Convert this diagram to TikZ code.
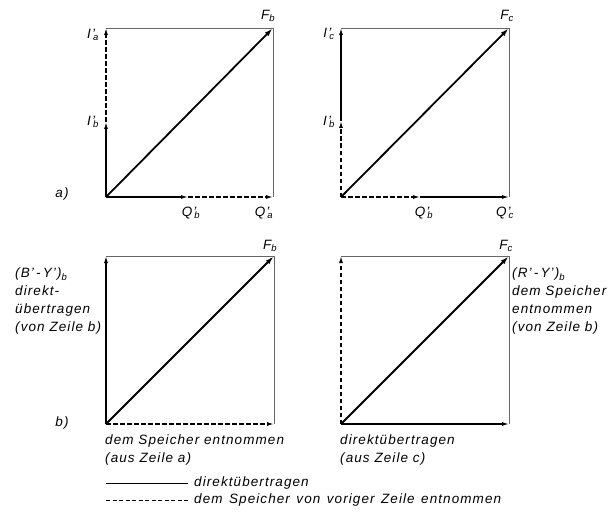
\documentclass[tikz,border=0pt]{standalone}
\usepackage{fontspec}
\setmainfont{Liberation Sans}[LetterSpace=8]
\usetikzlibrary{arrows.meta,positioning}

\newcommand{\sig}[2]{#1’\kern-2pt\textsubscript{#2}}

\tikzset{
  frame/.style={line width=0.4pt,black!60},
  direct/.style={line width=1.3pt,-{Latex[length=7pt,width=4pt]}},
  stored/.style={direct,dash pattern=on 4.5pt off 2.5pt},
  diag/.style={line width=1.8pt,-{Latex[length=9pt,width=5pt]}},
  lab/.style={inner sep=1pt,font=\itshape\fontsize{13.5}{18}\selectfont},
  note/.style={lab,align=left,anchor=north west},
}

\begin{document}
\begin{tikzpicture}[x=1pt,y=-1pt]
  \useasboundingbox (0,0) rectangle (609,513);

  % a) left panel
  \coordinate (a1o) at (106,197);
  \coordinate (a1t) at (106,28);
  \coordinate (a1r) at (273,197);
  \coordinate (a1f) at (273,28);
  \coordinate (a1i) at (106,122);
  \coordinate (a1q) at (188,197);
  \draw[frame] (a1t) -- (a1f) -- (a1r);
  \draw[direct] (a1o) -- (a1i);
  \draw[stored] (a1i) -- (a1t);
  \draw[direct] (a1o) -- (a1q);
  \draw[stored] (a1q) -- (a1r);
  \draw[diag] (a1o) -- (a1f);
  \node[lab] (a1Ia) at (93,35) {\sig{I}{a}};
  \node[lab] (a1Ib) at (93,122) {\sig{I}{b}};
  \node[lab] (a1F) at (268,16) {F\textsubscript{b}};
  \node[lab] (a1Qb) at (191,213) {\sig{Q}{b}};
  \node[lab] (a1Qa) at (264,213) {\sig{Q}{a}};
  \node[lab] (tagA) at (62,194) {a)};

  % a) right panel
  \coordinate (a2o) at (341,197);
  \coordinate (a2t) at (341,28);
  \coordinate (a2r) at (509,197);
  \coordinate (a2f) at (509,28);
  \coordinate (a2i) at (341,121);
  \coordinate (a2q) at (420,197);
  \draw[frame] (a2t) -- (a2f) -- (a2r);
  \draw[stored] (a2o) -- (a2i);
  \draw[direct] (a2i) -- (a2t);
  \draw[stored] (a2o) -- (a2q);
  \draw[direct] (a2q) -- (a2r);
  \draw[diag] (a2o) -- (a2f);
  \node[lab] (a2Ic) at (329,34) {\sig{I}{c}};
  \node[lab] (a2Ib) at (329,122) {\sig{I}{b}};
  \node[lab] (a2F) at (507,16) {F\textsubscript{c}};
  \node[lab] (a2Qb) at (424,213) {\sig{Q}{b}};
  \node[lab] (a2Qc) at (505,213) {\sig{Q}{c}};

  % b) left panel
  \coordinate (b1o) at (106,424);
  \coordinate (b1t) at (106,256);
  \coordinate (b1r) at (274,424);
  \coordinate (b1f) at (274,256);
  \draw[frame] (b1t) -- (b1f) -- (b1r);
  \draw[direct] (b1o) -- (b1t);
  \draw[stored] (b1o) -- (b1r);
  \draw[diag] (b1o) -- (b1f);
  \node[lab] (b1F) at (270,246) {F\textsubscript{b}};
  \node[note] (b1v) at (14,267) {(B'\,-\,Y')\textsubscript{b}\\direkt-\\übertragen\\(von Zeile b)};
  \node[note] (b1h) at (104,434) {dem Speicher entnommen\\(aus Zeile a)};
  \node[lab] (tagB) at (62,423) {b)};

  % b) right panel
  \coordinate (b2o) at (341,424);
  \coordinate (b2t) at (341,256);
  \coordinate (b2r) at (509,424);
  \coordinate (b2f) at (509,256);
  \draw[frame] (b2t) -- (b2f) -- (b2r);
  \draw[stored] (b2o) -- (b2t);
  \draw[direct] (b2o) -- (b2r);
  \draw[diag] (b2o) -- (b2f);
  \node[lab] (b2F) at (506,246) {F\textsubscript{c}};
  \node[note] (b2v) at (511,267) {(R'\,-\,Y')\textsubscript{b}\\dem Speicher\\entnommen\\(von Zeile b)};
  \node[note] (b2h) at (339,434) {direktübertragen\\(aus Zeile c)};

  % legend
  \coordinate (k1a) at (106,483);
  \coordinate (k1b) at (188,483);
  \coordinate (k2a) at (106,500);
  \coordinate (k2b) at (188,500);
  \draw[line width=0.8pt] (k1a) -- (k1b);
  \draw[line width=0.8pt,dash pattern=on 4pt off 2.5pt] (k2a) -- (k2b);
  \node[lab,anchor=west] (k1t) at (193,483) {direktübertragen};
  \node[lab,anchor=west] (k2t) at (193,500) {\spaceskip=6.5pt\relax dem Speicher von voriger Zeile entnommen};
\end{tikzpicture}
\end{document}
